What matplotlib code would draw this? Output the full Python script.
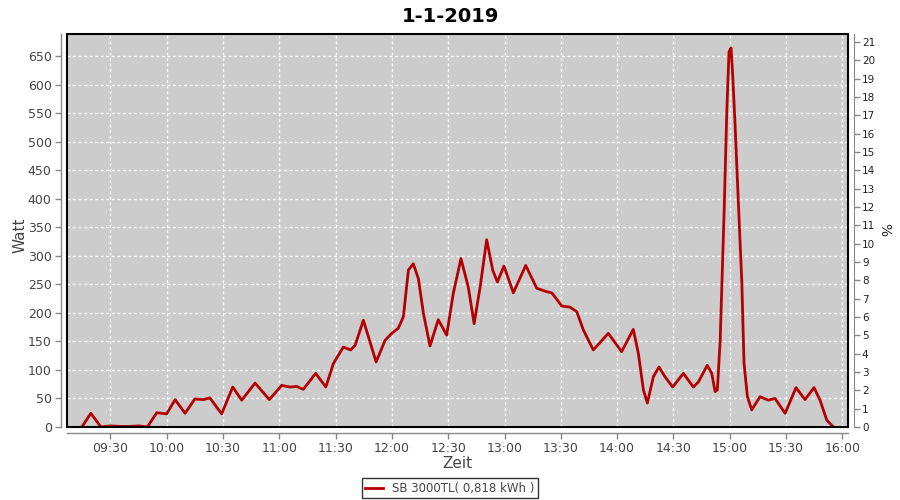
import matplotlib
matplotlib.use("Agg")
import matplotlib.pyplot as plt
from matplotlib.patches import Rectangle
from matplotlib.ticker import FixedLocator, FuncFormatter

title = "1-1-2019"
series_name = "SB 3000TL( 0,818 kWh )"

times = ["09:14:48", "09:19:36", "09:25:00", "09:30:00", "09:35:00", "09:40:00", "09:45:00",
         "09:49:42", "09:54:42", "10:00:00", "10:04:30", "10:09:48", "10:15:00", "10:19:36",
         "10:23:00", "10:29:18", "10:35:12", "10:40:00", "10:47:06", "10:54:42", "11:01:18",
         "11:05:42", "11:09:18", "11:12:48", "11:19:24", "11:24:48", "11:28:48", "11:34:06",
         "11:38:00", "11:40:24", "11:44:48", "11:51:36", "11:56:24", "11:59:54", "12:03:24",
         "12:06:06", "12:08:48", "12:11:24", "12:14:06", "12:16:48", "12:20:18", "12:24:42",
         "12:29:12", "12:32:42", "12:36:48", "12:40:42", "12:43:48", "12:47:00", "12:50:30",
         "12:53:42", "12:56:12", "12:59:42", "13:04:42", "13:11:18", "13:17:12", "13:22:30",
         "13:25:12", "13:30:30", "13:34:54", "13:38:30", "13:42:00", "13:47:18", "13:55:18",
         "14:02:24", "14:08:36", "14:11:18", "14:14:00", "14:16:06", "14:19:18", "14:22:18",
         "14:25:30", "14:29:36", "14:35:18", "14:40:36", "14:43:18", "14:48:00", "14:50:24",
         "14:52:12", "14:53:24", "14:54:54", "14:57:00", "14:58:24", "14:59:36", "15:00:42",
         "15:01:36", "15:02:48", "15:04:36", "15:06:24", "15:07:36", "15:09:24", "15:11:42",
         "15:16:06", "15:20:36", "15:24:06", "15:29:30", "15:35:18", "15:40:06", "15:44:54",
         "15:48:06", "15:51:42", "15:55:12"]
watts = [0, 24, 0, 2, 1, 1, 2,
         0, 25, 23, 48, 24, 49, 48,
         51, 23, 70, 47, 77, 48, 73,
         70, 71, 66, 94, 70, 111, 140,
         135, 143, 187, 114, 152, 164, 173,
         193, 275, 286, 260, 199, 142, 188,
         161, 234, 295, 245, 181, 245, 328,
         275, 254, 282, 235, 283, 243, 237,
         235, 212, 210, 202, 170, 135, 164,
         132, 171, 129, 65, 42, 88, 105,
         88, 70, 94, 70, 79, 108, 94,
         62, 65, 152, 377, 550, 657, 664,
         614, 532, 392, 257, 112, 53, 30,
         53, 47, 50, 24, 69, 48, 69,
         47, 12, 0]

x_ticks = ["09:30", "10:00", "10:30", "11:00", "11:30", "12:00", "12:30", "13:00",
           "13:30", "14:00", "14:30", "15:00", "15:30", "16:00"]


def to_min(s):
    parts = [float(p) for p in s.split(":")]
    m = parts[0] * 60 + parts[1]
    if len(parts) > 2:
        m += parts[2] / 60
    return m


xm = [to_min(t) for t in times]
xt = [to_min(t) for t in x_ticks]

grey_txt = "#444444"
axis_grey = "#888888"

fig = plt.figure(figsize=(9, 5), dpi=100)
ax = fig.add_axes([67 / 900, 73 / 500, (848 - 67) / 900, (427 - 34) / 500])
ax.set_facecolor("#cccccc")
ax.plot(xm, watts, color="#b40000", lw=2.0, zorder=3, label=series_name)

ax.set_xlim(to_min("09:06:54"), to_min("16:03:00"))
ax.set_ylim(0, 688.5)
ax.xaxis.set_major_locator(FixedLocator(xt))
ax.xaxis.set_major_formatter(FuncFormatter(lambda v, p: "%02d:%02d" % (int(round(v)) // 60, int(round(v)) % 60)))
ax.yaxis.set_major_locator(FixedLocator(list(range(0, 651, 50))))

ax.grid(True, color="white", lw=1.0, linestyle=(0, (2, 2)))
ax.set_axisbelow(True)

for s in ["top", "right"]:
    ax.spines[s].set_visible(False)
for s in ["left", "bottom"]:
    ax.spines[s].set_position(("outward", 4))
    ax.spines[s].set_color(axis_grey)
    ax.spines[s].set_linewidth(1.0)
ax.add_patch(Rectangle((0, 0), 1, 1, transform=ax.transAxes, fill=False,
                       edgecolor="black", lw=1.5, clip_on=False, zorder=5))

ax.tick_params(axis="both", colors=axis_grey, labelcolor=grey_txt, labelsize=9,
               length=4, width=1, direction="out", pad=3)

fig.text(20 / 900, 1 - 235 / 500, "Watt", fontsize=11, color=grey_txt,
         rotation=90, ha="center", va="center")
fig.text(457 / 900, 1 - 463 / 500, "Zeit", fontsize=11, color=grey_txt,
         ha="center", va="center")

ax2 = ax.twinx()
ax2.set_ylim(0, 21.44)
ax2.yaxis.set_major_locator(FixedLocator(list(range(0, 22))))
for s in ["top", "left", "bottom"]:
    ax2.spines[s].set_visible(False)
ax2.spines["right"].set_position(("outward", 4))
ax2.spines["right"].set_color(axis_grey)
ax2.tick_params(axis="y", colors=axis_grey, labelcolor="#222222", labelsize=7.5,
                length=4, width=1, direction="out", pad=2)
fig.text(884 / 900, 1 - 230 / 500, "%", fontsize=10, color="#222222",
         rotation=-90, ha="center", va="center")

fig.suptitle(title, x=0.5, y=0.985, fontsize=14, fontweight="bold", color="black")

leg = fig.legend(loc="lower center", bbox_to_anchor=(0.5, 0.0), frameon=True,
                 fontsize=8.5, handlelength=1.5, borderpad=0.3, fancybox=False,
                 borderaxespad=0.15)
leg.get_frame().set_edgecolor("black")
leg.get_frame().set_linewidth(1.0)
for t in leg.get_texts():
    t.set_color(grey_txt)

fig.savefig("out.png", dpi=100)
